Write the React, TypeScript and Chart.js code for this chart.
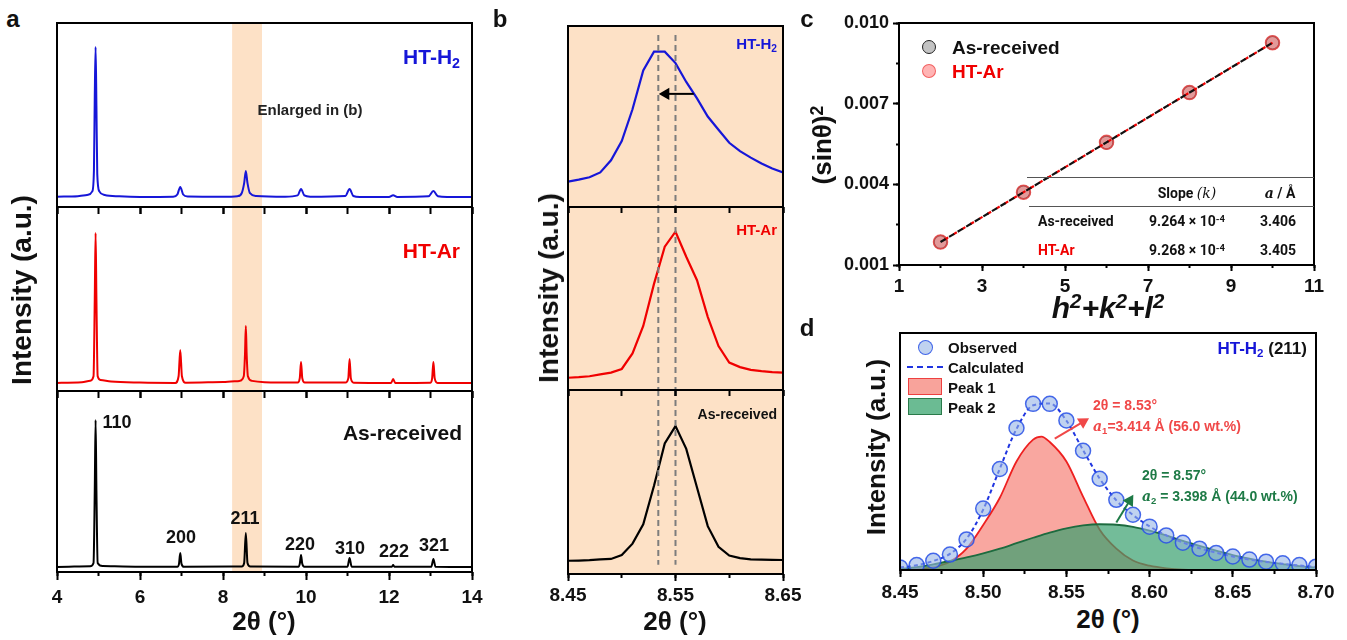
import React, { useEffect, useRef } from "react";
import { Chart, registerables } from "chart.js";
Chart.register(...registerables);

const FONT = '"Liberation Sans", Arial, Helvetica, sans-serif';
const TFONT = 'Roboto, "Liberation Sans", Arial, sans-serif';
const SERIF = '"DejaVu Serif", "Liberation Serif", serif';
const BLUE = "#1616d8";
const RED = "#f00000";
const PEACH = "#fde1c6";

// ---------------- panel a : XRD patterns (2θ, relative intensity 0-100 within each sub-panel)
const enlargedBand = [8.22, 8.94];
const patternH2: [number, number][] = [
  [4.0, 5.6], [4.5, 5.9], [4.75, 6.6], [4.85, 8.5], [4.89, 20], [4.91, 60], [4.93, 87], [4.95, 55], [4.97, 18],
  [5.02, 8.5], [5.15, 6.5], [5.5, 5.8], [6.0, 5.5], [6.8, 5.6], [6.9, 6.8], [6.97, 10.9], [7.04, 6.8], [7.15, 5.7],
  [8.0, 5.6], [8.35, 5.9], [8.45, 7.5], [8.51, 13], [8.55, 19.6], [8.59, 13], [8.65, 7.5], [8.8, 6.0], [9.5, 5.6],
  [9.8, 6.3], [9.88, 9.8], [9.96, 6.3], [10.1, 5.6], [10.95, 6.0], [11.05, 9.8], [11.14, 6.0], [11.3, 5.5],
  [12.0, 5.5], [12.1, 6.4], [12.2, 5.5], [12.95, 5.8], [13.07, 8.7], [13.18, 5.8], [13.4, 5.4], [14.0, 5.4],
];
const patternAr: [number, number][] = [
  [4.0, 4.4], [4.6, 4.7], [4.8, 5.6], [4.88, 8], [4.91, 50], [4.93, 85.9], [4.95, 50], [4.98, 8], [5.05, 6],
  [5.3, 5.2], [6.0, 4.6], [6.85, 4.4], [6.93, 8], [6.97, 22.3], [7.01, 8], [7.1, 4.5], [8.0, 4.9], [8.4, 5.5],
  [8.5, 8], [8.53, 20], [8.55, 35.3], [8.57, 20], [8.6, 8], [8.7, 5.5], [9.0, 4.8], [9.8, 4.6], [9.85, 7],
  [9.88, 15.8], [9.91, 7], [9.97, 4.6], [10.95, 4.6], [11.02, 7], [11.05, 17.4], [11.08, 7], [11.15, 4.5],
  [12.05, 4.4], [12.1, 6.5], [12.15, 4.4], [13.0, 4.5], [13.04, 7], [13.07, 15.8], [13.1, 7], [13.17, 4.4], [14.0, 4.3],
];
const patternAs: [number, number][] = [
  [4.0, 2.8], [4.8, 3.2], [4.88, 5], [4.91, 45], [4.93, 84], [4.95, 45], [4.98, 5], [5.1, 3.3], [6.0, 2.9],
  [6.9, 2.9], [6.94, 4.5], [6.97, 10.5], [7.0, 4.5], [7.06, 2.9], [8.45, 3.0], [8.51, 5], [8.55, 21.5], [8.59, 5],
  [8.66, 3.0], [9.82, 2.9], [9.85, 4.5], [9.88, 9.4], [9.91, 4.5], [9.96, 2.9], [11.0, 2.9], [11.05, 7.7],
  [11.1, 2.9], [12.07, 2.9], [12.1, 3.9], [12.13, 2.9], [13.02, 2.9], [13.07, 7.2], [13.12, 2.9], [14.0, 2.8],
];

// ---------------- panel b : (211) peak enlarged
const bTheta = [8.45, 8.46, 8.47, 8.48, 8.49, 8.5, 8.51, 8.52, 8.53, 8.54, 8.55, 8.56, 8.57, 8.58, 8.59, 8.6, 8.61, 8.62, 8.63, 8.64, 8.65];
const bH2 = [14.0, 15.1, 16.4, 19.1, 25.8, 36.4, 54, 75.5, 85.8, 85.8, 79.5, 69.1, 60.0, 50.0, 42.7, 35.5, 30.9, 27.3, 24.0, 21.3, 19.1];
const bAr = [6.7, 7.0, 7.5, 8.5, 9.5, 11.5, 20, 35, 58, 78.3, 86.5, 72.8, 60, 40, 24, 15, 12.5, 11, 10.3, 9.8, 9.5];
const bAs = [7.2, 7.3, 7.5, 7.9, 8.2, 10.3, 16.5, 27, 48, 71, 80.4, 68, 47, 26, 14.8, 10, 8.6, 8.0, 7.8, 7.7, 7.6];
const bRefLines = [8.534, 8.55];
const bArrowX = [8.567, 8.541];
const bArrowY = 62.5;

// ---------------- panel c : (sinθ)² vs h²+k²+l²
const hklSum = [2, 4, 6, 8, 10];
const sin2AsReceived = [0.001853, 0.003706, 0.005558, 0.007411, 0.009264];
const sin2HTAr = [0.001854, 0.003707, 0.005561, 0.007414, 0.009268];
const fitX = [2, 10];
const fitY = [0.001853, 0.009266];
const tableRows = [
  { name: "As-received", slope: "9.264", a: "3.406", color: "#111" },
  { name: "HT-Ar", slope: "9.268", a: "3.405", color: RED },
];

// ---------------- panel d : peak fit of HT-H2 (211)
const dTheta = [8.45, 8.46, 8.47, 8.48, 8.49, 8.5, 8.51, 8.52, 8.53, 8.54, 8.55, 8.56, 8.57, 8.58, 8.59, 8.6, 8.61, 8.62, 8.63, 8.64, 8.65, 8.66, 8.67, 8.68, 8.69, 8.7];
const dObserved = [1.1, 2.1, 3.9, 6.5, 12.9, 25.9, 42.6, 59.9, 70.1, 70.1, 63.1, 50.3, 38.5, 29.6, 23.3, 18.3, 14.6, 11.5, 9.0, 7.2, 5.7, 4.4, 3.5, 2.8, 2.1, 1.4];
const dCalculated = [1.0, 2.0, 3.8, 6.8, 13.2, 25.5, 42.8, 59.5, 69.5, 70.3, 63.0, 50.6, 38.6, 29.4, 23.2, 18.4, 14.6, 11.6, 9.2, 7.3, 5.7, 4.4, 3.4, 2.6, 1.9, 1.3];
const peak1X = [8.45, 8.46, 8.47, 8.48, 8.49, 8.5, 8.51, 8.52, 8.53, 8.535, 8.54, 8.55, 8.56, 8.57, 8.58, 8.59, 8.6, 8.61, 8.62, 8.64, 8.7];
const peak1Y = [0.1, 0.4, 1.2, 3.5, 9, 19, 30.5, 45.8, 55, 56.3, 54, 45.8, 31, 17, 9, 4, 1.8, 0.7, 0.2, 0.05, 0];
const peak2Y = [0.4, 1.2, 2.4, 3.8, 5.3, 7.0, 9.0, 11.3, 13.6, 15.8, 17.6, 18.8, 19.3, 19.1, 18.2, 16.6, 14.6, 12.3, 10.2, 8.2, 6.3, 4.8, 3.5, 2.5, 1.6, 1.0];
const arrow1X = [8.543, 8.560];
const arrow1Y = [55.4, 62.5];
const arrow2X = [8.580, 8.588];
const arrow2Y = [20, 29.2];

// ---------------- helpers
const framePlugin = {
  id: "frame",
  beforeDatasetsDraw(chart: any, _a: any, o: any) {
    const { ctx, chartArea: c, scales } = chart;
    ctx.save();
    if (o && o.bg) {
      ctx.fillStyle = o.bg;
      ctx.fillRect(c.left, c.top, c.right - c.left, c.bottom - c.top);
    }
    if (o && o.band) {
      const x0 = scales.x.getPixelForValue(o.band[0]);
      const x1 = scales.x.getPixelForValue(o.band[1]);
      ctx.fillStyle = o.bandColor;
      ctx.fillRect(x0, c.top, x1 - x0, c.bottom - c.top);
    }
    ctx.restore();
  },
  afterDatasetsDraw(chart: any) {
    const { ctx, chartArea: c } = chart;
    ctx.save();
    ctx.strokeStyle = "#000";
    ctx.lineWidth = 2;
    ctx.strokeRect(c.left, c.top, c.right - c.left, c.bottom - c.top);
    ctx.restore();
  },
};

const tg = (len: number) => ({ display: true, drawOnChartArea: false, drawTicks: true, tickLength: len, tickWidth: 2, tickColor: "#000" });
const zp = (s: any) => { s.paddingLeft = 0; s.paddingRight = 0; s.paddingTop = 0; s.paddingBottom = 0; };

function bottomAxes(min: number, max: number, minor: number, minorLen: number, major: number, majorLen: number, labels: boolean, fmt: any, h: number, pad: number, size: number) {
  return {
    x: {
      type: "linear", position: "bottom", min, max, weight: 0,
      ticks: { stepSize: minor, display: false },
      grid: tg(minorLen), border: { display: false },
      afterFit: (s: any) => { s.height = 0; zp(s); },
    },
    x2: {
      type: "linear", position: "bottom", min, max, weight: 1,
      ticks: { stepSize: major, display: labels, autoSkip: false, maxRotation: 0, minRotation: 0, padding: pad, color: "#111", font: { family: FONT, size, weight: "bold" }, callback: fmt },
      grid: tg(majorLen), border: { display: false },
      afterFit: (s: any) => { s.height = h; zp(s); },
    },
  };
}
function leftAxes(min: number, max: number, minor: number, minorLen: number, major: number, majorLen: number, fmt: any, w: number, pad: number, size: number) {
  return {
    y: {
      type: "linear", position: "left", min, max, weight: 0,
      ticks: { stepSize: minor, display: false },
      grid: tg(minorLen), border: { display: false },
      afterFit: (s: any) => { s.width = 0; zp(s); },
    },
    y2: {
      type: "linear", position: "left", min, max, weight: 1,
      ticks: { stepSize: major, autoSkip: false, padding: pad, color: "#111", font: { family: FONT, size, weight: "bold" }, callback: fmt },
      grid: tg(majorLen), border: { display: false },
      afterFit: (s: any) => { s.width = w; zp(s); },
    },
  };
}
const hiddenY = { display: false, min: 0, max: 100 };
const baseOpts = (padding: any, scales: any, frame: any = {}) => ({
  animation: false, responsive: false, maintainAspectRatio: false, devicePixelRatio: 1, events: [],
  layout: { padding },
  plugins: { legend: { display: false }, tooltip: { enabled: false }, frame },
  scales,
});

function ChartBox({ x, y, w, h, pad, z = 1, make }: any) {
  const ref = useRef<HTMLCanvasElement>(null);
  useEffect(() => {
    const chart = new Chart(ref.current as any, make());
    return () => chart.destroy();
  }, []);
  const [l, t, r, b] = pad;
  const W = w + l + r, H = h + t + b;
  return <canvas ref={ref} width={W} height={H} style={{ position: "absolute", left: x - l, top: y - t, width: W, height: H, zIndex: z }} />;
}

function T({ x, y, s, c = "#111", w = 700, it = false, a = "c", rot = 0, ff = FONT, children }: any) {
  const tx = a === "c" ? "-50%" : a === "l" ? "0%" : "-100%";
  return (
    <div style={{ position: "absolute", left: x, top: y, transform: `translate(${tx}, -50%) rotate(${rot}deg)`, fontSize: s, color: c, fontWeight: w, fontStyle: it ? "italic" : "normal", fontFamily: ff, whiteSpace: "nowrap", lineHeight: 1, zIndex: 10 }}>
      {children}
    </div>
  );
}
const Sub = ({ children }: any) => <span style={{ fontSize: "0.68em", verticalAlign: "-0.28em" }}>{children}</span>;
const Sup = ({ children }: any) => <span style={{ fontSize: "0.68em", verticalAlign: "0.5em" }}>{children}</span>;

// ---------------- chart configs
const xy = (pts: [number, number][]) => pts.map(([x, y]) => ({ x, y }));
const zipXY = (xs: number[], ys: number[]) => xs.map((x, i) => ({ x, y: ys[i] }));

function cfgA(pts: [number, number][], color: string, last: boolean) {
  const scales = {
    ...bottomAxes(4, 14, 1, last ? 4 : 7, 2, last ? 8 : 7, last, (v: any) => String(v), last ? 40 : 0, 6, 19),
    y: hiddenY,
  };
  return {
    type: "line",
    data: { datasets: [{ data: xy(pts), borderColor: color, borderWidth: 2, pointRadius: 0, cubicInterpolationMode: "monotone", fill: false }] },
    options: baseOpts({ left: 20, top: 4, right: 20, bottom: last ? 0 : 12 }, scales, { band: enlargedBand, bandColor: PEACH }),
    plugins: [framePlugin],
  };
}

function cfgB(vals: number[], color: string, last: boolean, refTop: number, refBot: number, arrow: boolean) {
  const datasets: any[] = [];
  if (arrow) {
    datasets.push({
      data: bArrowX.map((x) => ({ x, y: bArrowY })), borderColor: "#000", borderWidth: 2,
      pointRadius: [0, 5], pointStyle: "triangle", pointRotation: -90, pointBackgroundColor: "#000", pointBorderColor: "#000",
    });
  }
  bRefLines.forEach((rx) => {
    datasets.push({ data: [{ x: rx, y: refTop }, { x: rx, y: refBot }], borderColor: "#7d7d7d", borderWidth: 2, borderDash: [6, 4], pointRadius: 0 });
  });
  datasets.push({ data: zipXY(bTheta, vals), borderColor: color, borderWidth: 2.2, pointRadius: 0, tension: 0 });
  const scales = {
    ...bottomAxes(8.45, 8.65, 0.05, last ? 4 : 6, 0.1, last ? 7 : 6, last, (v: any) => Number(v).toFixed(2), last ? 36 : 0, 3, 19),
    y: hiddenY,
  };
  return {
    type: "line",
    data: { datasets },
    options: baseOpts({ left: 25, top: 4, right: 25, bottom: last ? 0 : 12 }, scales, { bg: PEACH }),
    plugins: [framePlugin],
  };
}

function cfgC() {
  const scales = {
    ...bottomAxes(1, 11, 1, 3, 2, 6, true, (v: any) => String(v), 30, 4, 19),
    ...leftAxes(0.001, 0.01, 0.0015, 3, 0.003, 6, (v: any) => Number(v).toFixed(3), 75, 4, 18),
  };
  return {
    type: "scatter",
    data: {
      datasets: [
        { data: zipXY(fitX, fitY), showLine: true, borderColor: "#111", borderWidth: 2.2, borderDash: [6, 4], pointRadius: 0 },
        { data: zipXY(fitX, fitY), showLine: true, borderColor: RED, borderWidth: 2.2, borderDash: [4, 6], borderDashOffset: 5, pointRadius: 0 },
        { data: zipXY(hklSum, sin2HTAr), showLine: false, pointRadius: 7, pointBackgroundColor: "rgba(255,120,120,0.55)", pointBorderColor: "rgba(240,70,70,0.8)", pointBorderWidth: 1.5 },
        { data: zipXY(hklSum, sin2AsReceived), showLine: false, pointRadius: 6.5, pointBackgroundColor: "rgba(170,170,170,0.7)", pointBorderColor: "#222", pointBorderWidth: 1.5 },
      ],
    },
    options: baseOpts({ left: 0, top: 10, right: 20, bottom: 0 }, scales),
    plugins: [framePlugin],
  };
}

function cfgD() {
  const scales = {
    ...bottomAxes(8.45, 8.7, 0.025, 4, 0.05, 7, true, (v: any) => Number(v).toFixed(2), 30, 4, 19),
    y: hiddenY,
  };
  const arrow = (xs: number[], ys: number[], color: string, rot: number) => ({
    data: zipXY(xs, ys), borderColor: color, borderWidth: 2, pointRadius: [0, 5], pointStyle: "triangle",
    pointRotation: rot, pointBackgroundColor: color, pointBorderColor: color,
  });
  return {
    type: "line",
    data: {
      datasets: [
        arrow(arrow1X, arrow1Y, "#f04848", 59),
        arrow(arrow2X, arrow2Y, "#1e7a46", 32),
        { data: zipXY(dTheta, dObserved), showLine: false, pointRadius: 7.5, pointBackgroundColor: "rgba(150,180,230,0.6)", pointBorderColor: "rgba(40,80,230,0.85)", pointBorderWidth: 1.5 },
        { data: zipXY(dTheta, dCalculated), borderColor: "#2035e0", borderWidth: 2, borderDash: [4, 3], pointRadius: 0, cubicInterpolationMode: "monotone" },
        { data: zipXY(dTheta, peak2Y), fill: "origin", backgroundColor: "rgba(55,160,110,0.7)", borderColor: "#1d6b3f", borderWidth: 1.8, pointRadius: 0, cubicInterpolationMode: "monotone" },
        { data: zipXY(peak1X, peak1Y), fill: "origin", backgroundColor: "rgba(246,125,115,0.68)", borderColor: "#ee2020", borderWidth: 1.8, pointRadius: 0, cubicInterpolationMode: "monotone" },
      ],
    },
    options: baseOpts({ left: 20, top: 6, right: 25, bottom: 0 }, scales),
    plugins: [framePlugin],
  };
}

export default function App() {
  return (
    <div style={{ position: "fixed", left: 0, top: 0, width: 1347, height: 640, background: "#fff", overflow: "hidden", fontFamily: FONT }}>
      {/* panel a */}
      <ChartBox x={57} y={23} w={415} h={184} pad={[20, 4, 20, 12]} z={3} make={() => cfgA(patternH2, BLUE, false)} />
      <ChartBox x={57} y={207} w={415} h={184} pad={[20, 4, 20, 12]} z={2} make={() => cfgA(patternAr, RED, false)} />
      <ChartBox x={57} y={391} w={415} h={181} pad={[20, 4, 20, 40]} z={1} make={() => cfgA(patternAs, "#000", true)} />
      {/* panel b */}
      <ChartBox x={568} y={23} w={215} h={184} pad={[25, 4, 25, 12]} z={3} make={() => cfgB(bH2, BLUE, false, 95, 0, true)} />
      <ChartBox x={568} y={207} w={215} h={183} pad={[25, 4, 25, 12]} z={2} make={() => cfgB(bAr, RED, false, 100, 0, false)} />
      <ChartBox x={568} y={390} w={215} h={184} pad={[25, 4, 25, 36]} z={1} make={() => cfgB(bAs, "#000", true, 100, 5, false)} />
      {/* panel c */}
      <ChartBox x={899} y={23} w={415} h={242} pad={[75, 10, 20, 30]} make={cfgC} />
      {/* panel d */}
      <ChartBox x={900} y={330} w={416} h={240} pad={[20, 6, 25, 30]} make={cfgD} />

      {/* panel letters */}
      <T x={13} y={19} s={24}>a</T>
      <T x={500} y={19} s={24}>b</T>
      <T x={807} y={19} s={24}>c</T>
      <T x={807} y={328} s={24}>d</T>

      {/* panel a texts */}
      <T x={22} y={290} s={28} rot={-90}>Intensity (a.u.)</T>
      <T x={264} y={621} s={26}>2θ (°)</T>
      <T x={460} y={58} s={21} c={BLUE} a="r">HT-H<Sub>2</Sub></T>
      <T x={310} y={109} s={15} c="#222">Enlarged in (b)</T>
      <T x={460} y={250} s={21} c={RED} a="r">HT-Ar</T>
      <T x={462} y={432} s={21} a="r">As-received</T>
      <T x={117} y={422} s={18}>110</T>
      <T x={181} y={537} s={18}>200</T>
      <T x={245} y={518} s={18}>211</T>
      <T x={300} y={544} s={18}>220</T>
      <T x={350} y={548} s={18}>310</T>
      <T x={394} y={551} s={18}>222</T>
      <T x={434} y={545} s={18}>321</T>

      {/* panel b texts */}
      <T x={549} y={288} s={28} rot={-90}>Intensity (a.u.)</T>
      <T x={675} y={621} s={26}>2θ (°)</T>
      <T x={777} y={45} s={15} c={BLUE} a="r">HT-H<Sub>2</Sub></T>
      <T x={777} y={229} s={15} c={RED} a="r">HT-Ar</T>
      <T x={777} y={414} s={14} a="r">As-received</T>

      {/* panel c texts */}
      <T x={822} y={145} s={26} rot={-90}>(sinθ)<Sup>2</Sup></T>
      <T x={1108} y={307} s={30} it>h<Sup>2</Sup>+k<Sup>2</Sup>+l<Sup>2</Sup></T>
      <div style={{ position: "absolute", left: 922, top: 40, width: 14, height: 14, borderRadius: "50%", background: "rgba(185,185,185,0.85)", border: "1.5px solid #222", boxSizing: "border-box", zIndex: 10 }} />
      <div style={{ position: "absolute", left: 922, top: 64, width: 14, height: 14, borderRadius: "50%", background: "rgba(255,140,140,0.65)", border: "1.5px solid rgba(240,80,80,0.85)", boxSizing: "border-box", zIndex: 10 }} />
      <T x={952} y={47} s={19} a="l">As-received</T>
      <T x={952} y={71} s={19} a="l" c={RED}>HT-Ar</T>
      <div style={{ position: "absolute", left: 1027, top: 177, width: 287, borderTop: "1.5px solid #555", zIndex: 10 }} />
      <div style={{ position: "absolute", left: 1029, top: 206, width: 285, borderTop: "1.5px solid #555", zIndex: 10 }} />
      <T x={1187} y={193} s={14} ff={TFONT}>Slope <span style={{ fontFamily: SERIF, fontStyle: "italic", fontWeight: 400 }}>(k)</span></T>
      <T x={1280} y={193} s={14} ff={TFONT}><span style={{ fontFamily: SERIF, fontStyle: "italic" }}>a</span> / Å</T>
      {tableRows.map((r, i) => (
        <React.Fragment key={r.name}>
          <T x={1038} y={221 + i * 29} s={14} ff={TFONT} a="l" c={r.color}>{r.name}</T>
          <T x={1187} y={221 + i * 29} s={14} ff={TFONT}>{r.slope} × 10<Sup>-4</Sup></T>
          <T x={1278} y={221 + i * 29} s={14} ff={TFONT}>{r.a}</T>
        </React.Fragment>
      ))}

      {/* panel d texts */}
      <T x={876} y={447} s={26} rot={-90}>Intensity (a.u.)</T>
      <T x={1108} y={619} s={26}>2θ (°)</T>
      <T x={1307} y={350} s={17} a="r"><span style={{ color: BLUE }}>HT-H<Sub>2</Sub></span> (211)</T>
      <div style={{ position: "absolute", left: 918, top: 340, width: 15, height: 15, borderRadius: "50%", background: "rgba(150,180,230,0.6)", border: "1.5px solid rgba(40,80,230,0.85)", boxSizing: "border-box", zIndex: 10 }} />
      <div style={{ position: "absolute", left: 907, top: 366, width: 36, borderTop: "2px dashed #2035e0", zIndex: 10 }} />
      <div style={{ position: "absolute", left: 908, top: 378, width: 34, height: 17, background: "rgba(246,140,130,0.8)", border: "1.5px solid #ee4040", boxSizing: "border-box", zIndex: 10 }} />
      <div style={{ position: "absolute", left: 908, top: 398, width: 34, height: 17, background: "rgba(70,170,120,0.8)", border: "1.5px solid #2a7a4a", boxSizing: "border-box", zIndex: 10 }} />
      <T x={948} y={347} s={15} a="l">Observed</T>
      <T x={948} y={367} s={15} a="l">Calculated</T>
      <T x={948} y={387} s={15} a="l">Peak 1</T>
      <T x={948} y={407} s={15} a="l">Peak 2</T>
      <T x={1093} y={405} s={14} a="l" c="#f04848">2θ = 8.53°</T>
      <T x={1093} y={427} s={14} a="l" c="#f04848"><span style={{ fontFamily: SERIF, fontStyle: "italic" }}>a</span><Sub>1</Sub>=3.414 Å (56.0 wt.%)</T>
      <T x={1142} y={475} s={14} a="l" c="#1e7a46">2θ = 8.57°</T>
      <T x={1142} y={497} s={14} a="l" c="#1e7a46"><span style={{ fontFamily: SERIF, fontStyle: "italic" }}>a</span><Sub>2</Sub> = 3.398 Å (44.0 wt.%)</T>
    </div>
  );
}
